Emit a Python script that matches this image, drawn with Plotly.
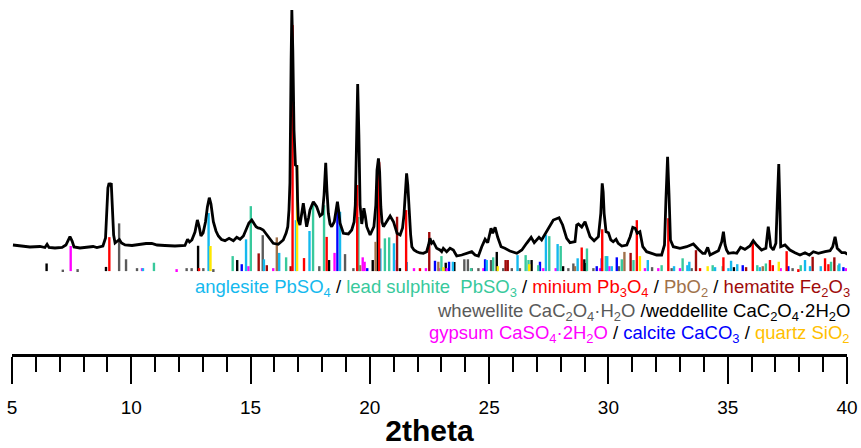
import plotly.graph_objects as go

# ---- measured diffraction pattern (2theta in degrees, intensity in counts) ----
two_theta = [
    5.04, 5.34, 5.75, 6.17, 6.38, 6.47, 6.55, 6.80, 7.10, 7.26, 7.35, 7.43, 7.52, 7.60,
    7.85, 8.19, 8.40, 8.56, 8.81, 8.92, 8.98, 9.02, 9.07, 9.12, 9.16, 9.21, 9.26, 9.32,
    9.40, 9.50, 9.59, 9.74, 10.03, 10.37, 10.62, 10.86, 11.08, 11.41, 11.83, 12.25, 12.36,
    12.44, 12.54, 12.67, 12.77, 12.84, 12.92, 13.01, 13.11, 13.19, 13.27, 13.34, 13.44,
    13.55, 13.65, 13.78, 13.93, 14.10, 14.28, 14.42, 14.56, 14.70, 14.84, 14.93, 15.05,
    15.14, 15.23, 15.31, 15.40, 15.53, 15.63, 15.77, 15.95, 16.16, 16.37, 16.49, 16.56,
    16.61, 16.65, 16.70, 16.73, 16.77, 16.82, 16.88, 16.94, 16.97, 17.00, 17.07, 17.15,
    17.21, 17.28, 17.35, 17.43, 17.49, 17.63, 17.77, 17.91, 18.01, 18.08, 18.15, 18.20,
    18.26, 18.33, 18.40, 18.51, 18.58, 18.64, 18.70, 18.75, 18.89, 19.10, 19.24, 19.34,
    19.39, 19.44, 19.49, 19.54, 19.59, 19.66, 19.71, 19.75, 19.81, 19.87, 20.01, 20.10,
    20.17, 20.25, 20.30, 20.36, 20.41, 20.46, 20.51, 20.57, 20.71, 20.85, 20.99, 21.14,
    21.27, 21.37, 21.43, 21.48, 21.54, 21.59, 21.65, 21.71, 21.76, 21.85, 21.97, 22.10,
    22.24, 22.38, 22.46, 22.52, 22.59, 22.66, 22.80, 22.94, 23.01, 23.08, 23.22, 23.36,
    23.50, 23.64, 23.85, 24.06, 24.27, 24.41, 24.55, 24.69, 24.83, 24.94, 25.04, 25.08,
    25.15, 25.25, 25.36, 25.50, 25.66, 25.87, 26.16, 26.37, 26.57, 26.76, 26.89, 27.09,
    27.20, 27.37, 27.55, 27.69, 27.93, 28.08, 28.25, 28.39, 28.60, 28.67, 28.74, 28.88,
    29.02, 29.12, 29.23, 29.40, 29.58, 29.68, 29.72, 29.74, 29.78, 29.82, 29.90, 30.00,
    30.10, 30.20, 30.32, 30.41, 30.56, 30.77, 30.91, 31.02, 31.12, 31.21, 31.32, 31.44,
    31.60, 31.81, 32.02, 32.23, 32.35, 32.41, 32.48, 32.54, 32.60, 32.72, 33.00, 33.28,
    33.56, 33.77, 33.95, 34.05, 34.16, 34.26, 34.40, 34.61, 34.75, 34.82, 34.89, 34.95,
    35.03, 35.24, 35.38, 35.54, 35.72, 35.93, 36.07, 36.21, 36.42, 36.60, 36.66, 36.70,
    36.75, 36.80, 36.91, 37.02, 37.09, 37.14, 37.18, 37.22, 37.40, 37.61, 37.82, 38.03,
    38.24, 38.42, 38.59, 38.80, 39.08, 39.29, 39.40, 39.50, 39.59, 39.78, 39.92, 40.08,
]
counts = [
    170, 160, 150, 155, 145, 177, 145, 140, 145, 170, 220, 253, 210, 150,
    140, 145, 155, 145, 160, 240, 500, 740, 790, 760, 790, 570, 270, 190,
    210, 225, 190, 170, 165, 180, 185, 187, 170, 165, 160, 165, 227,
    200, 220, 300, 420, 360, 260, 290, 400, 550, 643, 580, 403,
    310, 260, 225, 213, 237, 213, 247, 227, 260, 337, 390, 420,
    385, 353, 340, 337, 320, 287, 237, 187, 177, 220, 290, 353,
    520, 790, 2020, 2520, 2120, 1320, 970, 960, 620, 420, 370, 520,
    587, 470, 353, 440, 520, 603, 553, 460, 480, 670, 993, 720,
    487, 380, 353, 403, 540, 603, 500, 387, 287, 280, 320, 400,
    570, 1220, 1780, 1270, 570, 380, 500, 537, 460, 353, 270, 310,
    353, 570, 920, 1037, 900, 553, 400, 353, 403, 460, 403, 287,
    270, 340, 470, 720, 887, 770, 487, 270, 153, 120, 103, 90,
    87, 103, 170, 237, 187, 203, 137, 120, 103, 137, 103, 137,
    120, 60, 70, 87, 103, 70, 60, 153, 227, 193, 300, 337,
    287, 347, 247, 153, 137, 110, 87, 120, 187, 247, 193, 247,
    220, 287, 360, 420, 443, 370, 237, 193, 203, 370, 380, 350,
    403, 337, 253, 213, 253, 487, 720, 787, 700, 487, 303, 293,
    220, 203, 227, 187, 160, 170, 253, 347, 337, 287, 303, 153,
    103, 87, 70, 70, 170, 620, 1053, 670, 220, 153, 137, 153,
    180, 127, 87, 87, 147, 70, 87, 113, 203, 303, 170, 120,
    87, 93, 87, 147, 127, 160, 213, 170, 120, 137, 270, 353,
    260, 153, 120, 187, 670, 980, 620, 153, 170, 120, 93, 70,
    93, 70, 103, 87, 103, 113, 153, 253, 137, 93, 93, 70,
]

# ---- reference patterns (peak position 2theta, relative intensity) ----
anglesite_pos = [10.49, 13.24, 14.81, 15.56, 16.20, 16.90, 17.47, 18.75, 20.44, 21.01, 21.55,
                 23.48, 24.90, 26.19, 27.38, 27.87, 28.71, 29.95, 30.14, 31.65, 32.75, 33.31,
                 33.39, 34.47, 35.03, 35.14, 35.40, 36.35, 38.24, 38.45, 38.90, 39.68]
anglesite_int = [1.2, 23.6, 12.9, 4.8, 7.4, 20.7, 16.3, 24.1, 9.2, 11.3, 3.7,
                 3.8, 4.5, 6.5, 14.8, 11.0, 5.2, 6.1, 2.0, 4.5, 2.0, 2.4,
                 3.8, 1.6, 1.2, 4.2, 2.8, 1.6, 4.5, 2.0, 2.0, 3.1]

sulphite_pos = [10.95, 14.25, 15.01, 16.49, 17.62, 18.08, 19.52, 20.63, 20.81, 23.00, 24.24,
                25.17, 26.53, 26.65, 27.06, 27.52, 28.00, 29.10, 29.89, 30.56, 31.05, 32.23,
                33.11, 34.37, 34.79, 36.24, 36.60, 38.06, 39.33, 39.64]
sulphite_int = [3.4, 6.1, 26.4, 5.6, 27.6, 26.8, 22.0, 13.3, 13.7, 6.1, 1.2,
                5.6, 6.5, 4.5, 2.4, 14.2, 10.2, 9.2, 6.1, 4.8, 4.5, 2.4,
                5.2, 2.4, 2.0, 2.4, 3.1, 2.4, 3.8, 2.4]

minium_pos = [9.08, 12.84, 16.76, 17.24, 18.19, 19.47, 20.39, 21.52, 22.10, 28.88, 29.74,
              31.19, 32.51, 33.84, 34.82, 36.05, 36.77, 36.89, 37.47, 37.96, 39.08, 39.22]
minium_int = [13.8, 1.2, 100.0, 5.3, 13.9, 35.0, 44.3, 24.8, 1.2, 9.6, 17.0,
              20.7, 21.5, 1.2, 5.6, 12.3, 4.5, 2.4, 8.1, 0.8, 5.2, 2.8]

pbo2_pos = [16.10, 19.59, 20.24, 22.87, 28.60, 30.67, 36.47]
pbo2_int = [13.7, 2.4, 11.9, 3.8, 2.0, 7.8, 2.0]

hematite_pos = [15.34, 15.68, 16.68, 21.14, 22.49, 25.69, 25.78, 30.93, 33.67, 35.77, 38.56, 39.47]
hematite_int = [7.2, 2.4, 2.0, 22.1, 15.9, 4.5, 4.5, 7.4, 8.5, 1.6, 5.8, 5.6]

whewellite_pos = [7.13, 7.75, 9.49, 9.78, 10.24, 12.32, 12.53, 13.02, 13.44, 15.51, 17.88,
                  18.96, 19.31, 23.96, 24.11, 24.27, 24.55, 25.08, 25.59, 25.95, 26.29,
                  28.32, 28.53, 29.37, 30.44, 31.83, 32.65, 33.49, 37.72]
whewellite_int = [0.6, 0.8, 19.4, 4.8, 1.2, 1.2, 1.2, 1.2, 0.8, 14.6, 2.0,
                  6.9, 1.2, 4.8, 4.8, 1.2, 1.2, 4.5, 1.2, 1.2, 1.2,
                  1.2, 3.1, 1.2, 2.0, 1.6, 1.2, 1.2, 1.2]

weddellite_pos = [6.45, 8.94, 12.80, 14.44, 18.29, 20.12, 20.33, 21.26, 23.18, 23.54,
                  25.32, 26.78, 28.10, 28.99, 29.06, 35.26]
weddellite_int = [3.1, 1.7, 10.3, 4.5, 4.5, 4.5, 40.7, 1.2, 3.4, 3.7,
                  7.8, 4.5, 2.0, 4.8, 3.3, 1.6]

gypsum_pos = [7.46, 10.45, 11.90, 14.91, 15.95, 18.52, 19.70, 19.78, 21.13, 21.85, 22.35,
              22.91, 23.22, 24.76, 27.27, 27.79, 29.65, 30.04, 31.53, 32.09, 33.00, 37.22, 39.96]
gypsum_int = [10.2, 1.2, 0.8, 2.0, 1.2, 7.4, 5.6, 3.8, 4.5, 1.2, 1.2,
              1.2, 1.2, 1.2, 1.2, 1.2, 1.2, 2.0, 1.2, 1.2, 1.2, 1.2, 1.2]

calcite_pos = [14.63, 18.64, 19.89, 22.73, 23.32, 24.83, 27.13, 29.51, 29.72, 30.35,
               35.63, 37.54, 39.85]
calcite_int = [2.8, 28.0, 1.2, 4.2, 3.8, 4.8, 3.8, 2.0, 5.2, 5.6, 2.4, 2.0, 1.6]

quartz_pos = [13.32, 16.95, 23.08, 25.36, 26.68, 31.32, 34.16, 37.14]
quartz_int = [10.2, 43.1, 1.6, 2.0, 2.8, 6.1, 2.0, 3.8]

tick_values = [5, 10, 15, 20, 25, 30, 35, 40]
tick_labels = ["5", "10", "15", "20", "25", "30", "35", "40"]

# ---- colours ----
C_ANG = "#14B9EE"
C_SUL = "#38C99C"
C_MIN = "#FF0000"
C_PBO2 = "#A0714A"
C_HEM = "#A00A0A"
C_WHE = "#5A5A5A"
C_WED = "#000000"
C_GYP = "#FF00FF"
C_CAL = "#0000FF"
C_QTZ_STICK = "#FFE800"
C_QTZ_TEXT = "#FFC000"

FONT = "Liberation Sans, Arial, sans-serif"

fig = go.Figure()

# stick patterns sit on the lower y axis so the measured curve is drawn over them
stick_sets = [
    (whewellite_pos, whewellite_int, C_WHE),
    (weddellite_pos, weddellite_int, C_WED),
    (gypsum_pos, gypsum_int, C_GYP),
    (calcite_pos, calcite_int, C_CAL),
    (pbo2_pos, pbo2_int, C_PBO2),
    (hematite_pos, hematite_int, C_HEM),
    (sulphite_pos, sulphite_int, C_SUL),
    (anglesite_pos, anglesite_int, C_ANG),
    (quartz_pos, quartz_int, C_QTZ_STICK),
    (minium_pos, minium_int, C_MIN),
]
for pos, inten, col in stick_sets:
    fig.add_trace(go.Bar(
        x=pos, y=inten, width=0.1, yaxis="y",
        marker=dict(color=col, line=dict(width=0)),
        showlegend=False, hoverinfo="x+y",
    ))

fig.add_trace(go.Scatter(
    x=two_theta, y=counts, mode="lines", yaxis="y2",
    line=dict(color="black", width=2.8),
    showlegend=False,
))


def sub(s):
    return f"<sub>{s}</sub>"


def col(text, c):
    return f"<span style='color:{c}'>{text}</span>"


line1 = (col("anglesite PbSO" + sub("4"), C_ANG) + " / "
         + col("lead sulphite&nbsp;&nbsp;PbSO" + sub("3"), C_SUL) + " / "
         + col("minium Pb" + sub("3") + "O" + sub("4"), C_MIN) + " / "
         + col("PbO" + sub("2"), C_PBO2) + " / "
         + col("hematite Fe" + sub("2") + "O" + sub("3"), C_HEM))
line2 = (col("whewellite CaC" + sub("2") + "O" + sub("4") + "·H" + sub("2") + "O", C_WHE)
         + " /" + col("weddellite CaC" + sub("2") + "O" + sub("4") + "·2H" + sub("2") + "O", C_WED))
line3 = (col("gypsum CaSO" + sub("4") + "·2H" + sub("2") + "O", C_GYP) + " / "
         + col("calcite CaCO" + sub("3"), C_CAL) + " / "
         + col("quartz SiO" + sub("2"), C_QTZ_TEXT))

for txt, yp in [(line1, 0.186), (line2, 0.119), (line3, 0.056)]:
    fig.add_annotation(
        text=txt, xref="paper", yref="paper", x=1.006, y=yp,
        xanchor="right", yanchor="middle", showarrow=False,
        font=dict(family=FONT, size=18.5, color="black"),
    )

fig.update_layout(
    width=861, height=448,
    margin=dict(l=12, r=14, t=0, b=94),
    paper_bgcolor="white", plot_bgcolor="white",
    barmode="overlay",
    xaxis=dict(
        range=[5, 40], showgrid=False, zeroline=False,
        showline=True, linecolor="black", linewidth=3,
        ticks="outside", ticklen=27, tickwidth=2, tickcolor="black",
        tickvals=tick_values, ticktext=tick_labels,
        tickfont=dict(family=FONT, size=19, color="black"),
        ticklabelstandoff=7,
        minor=dict(ticks="outside", ticklen=15, tickwidth=2, tickcolor="black",
                   dtick=1, tick0=5, showgrid=False),
        title=dict(text="<b>2theta</b>", font=dict(family=FONT, size=30, color="black"),
                   standoff=4),
    ),
    yaxis=dict(range=[-33.7, 110.2], visible=False, fixedrange=True),
    yaxis2=dict(range=[-920, 2620], visible=False, overlaying="y", fixedrange=True),
)

fig.write_html("out.html")
